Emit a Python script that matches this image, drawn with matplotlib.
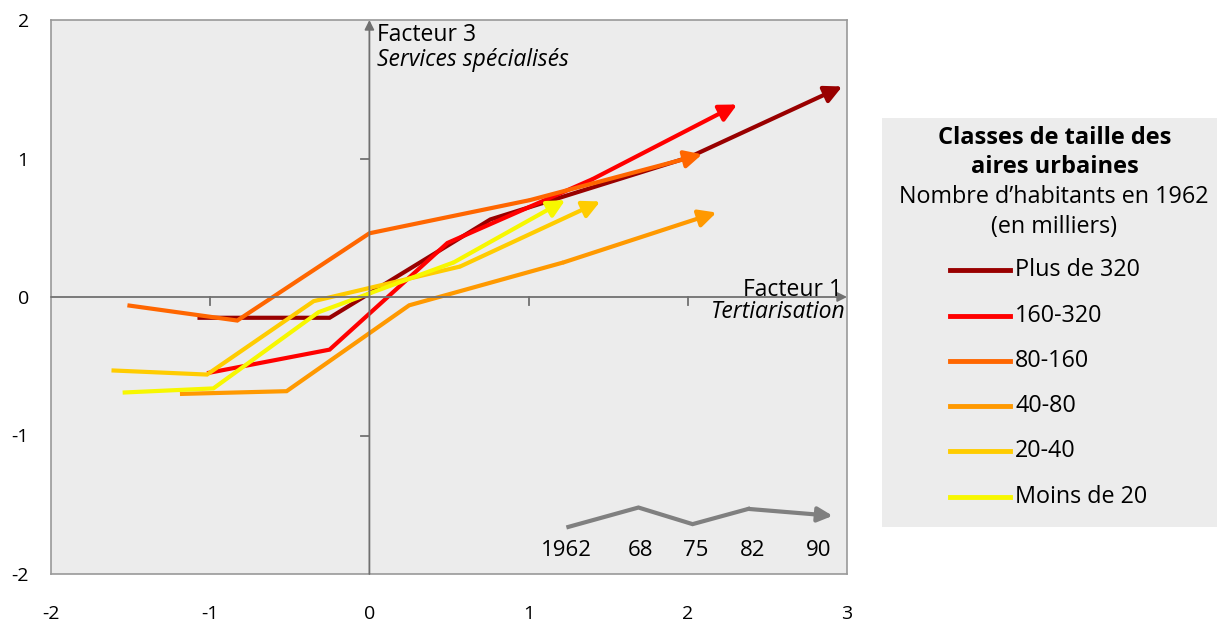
import numpy as np
import matplotlib
matplotlib.use("Agg")
import matplotlib.pyplot as plt
from matplotlib.patches import Rectangle
from matplotlib.lines import Line2D

plt.rcParams['font.family'] = ['Open Sans', 'DejaVu Sans']

# classes de taille (legend labels) and colours
classes = ['Plus de 320', '160-320', '80-160', '40-80', '20-40', 'Moins de 20']
colors = ['#990000', '#FF0000', '#FF6600', '#FF9900', '#FFCC00', '#F7F700']

# trajectories 1962, 68, 75, 82, 90 (Facteur 1, Facteur 3)
f1_plus320 = [-1.08, -0.25, 0.76, 2.01, 2.97]
f3_plus320 = [-0.15, -0.15, 0.56, 1.01, 1.52]
f1_160_320 = [-1.02, -0.25, 0.49, 1.40, 2.31]
f3_160_320 = [-0.55, -0.38, 0.39, 0.85, 1.39]
f1_80_160 = [-1.52, -0.83, 0.00, 1.01, 2.09]
f3_80_160 = [-0.06, -0.17, 0.46, 0.70, 1.03]
f1_40_80 = [-1.19, -0.52, 0.25, 1.22, 2.18]
f3_40_80 = [-0.70, -0.68, -0.06, 0.25, 0.61]
f1_20_40 = [-1.62, -1.02, -0.35, 0.57, 1.45]
f3_20_40 = [-0.53, -0.56, -0.03, 0.22, 0.69]
f1_moins20 = [-1.55, -0.98, -0.32, 0.53, 1.23]
f3_moins20 = [-0.69, -0.66, -0.11, 0.25, 0.70]

xs = [f1_plus320, f1_160_320, f1_80_160, f1_40_80, f1_20_40, f1_moins20]
ys = [f3_plus320, f3_160_320, f3_80_160, f3_40_80, f3_20_40, f3_moins20]

# small key for the years
years = ['1962', '68', '75', '82', '90']
key_x = [1.25, 1.69, 2.03, 2.38, 2.91]
key_y = [-1.66, -1.52, -1.64, -1.53, -1.58]
key_lab_x = [1.24, 1.70, 2.05, 2.41, 2.82]

fig = plt.figure(figsize=(12.17, 6.24), dpi=100)
ax = fig.add_axes([51/1217, 1-574/624, 796/1217, 554/624])
ax.set_xlim(-2, 3)
ax.set_ylim(-2, 2)
ax.set_facecolor('#ECECEC')
for s in ax.spines.values():
    s.set_color('#999999')
    s.set_linewidth(1.2)

ax.set_xticks([-2, -1, 0, 1, 2, 3])
ax.set_xticklabels(['-2', '-1', '0', '1', '2', '3'])
ax.set_yticks([-2, -1, 0, 1, 2])
ax.set_yticklabels(['-2', '-1', '0', '1', '2'])
ax.tick_params(axis='x', length=0, pad=22, labelsize=14)
ax.tick_params(axis='y', length=0, pad=16, labelsize=14)

# axes through origin with arrows
axcol = '#707070'
ax.annotate('', xy=(0, 2), xytext=(0, -2),
            arrowprops=dict(arrowstyle='-|>', color=axcol, lw=1.3,
                            mutation_scale=14, shrinkA=0, shrinkB=0))
ax.annotate('', xy=(3, 0), xytext=(-2, 0),
            arrowprops=dict(arrowstyle='-|>', color=axcol, lw=1.3,
                            mutation_scale=14, shrinkA=0, shrinkB=0))
for t in [-1, 1, 2]:
    ax.plot([t, t], [0, -0.06], color=axcol, lw=1.3)
for t in [-1, 1]:
    ax.plot([-0.05, 0], [t, t], color=axcol, lw=1.3)

ax.text(0.05, 1.89, 'Facteur 3', fontsize=16.5, va='center', ha='left')
ax.text(0.05, 1.71, 'Services spécialisés', fontsize=16.5, style='italic',
        va='center', ha='left')
ax.text(2.97, 0.05, 'Facteur 1', fontsize=16.5, va='center', ha='right')
ax.text(2.99, -0.11, 'Tertiarisation', fontsize=16.5, style='italic',
        va='center', ha='right')

# trajectories
for x, y, c in zip(xs, ys, colors):
    ax.plot(x[:-1], y[:-1], color=c, lw=3, solid_joinstyle='miter',
            solid_capstyle='butt')
    ax.annotate('', xy=(x[-1], y[-1]), xytext=(x[-2], y[-2]),
                arrowprops=dict(arrowstyle='-|>', color=c, lw=3,
                                mutation_scale=26, shrinkA=0, shrinkB=0))

# year key
ax.plot(key_x[:-1], key_y[:-1], color='#808080', lw=3, solid_joinstyle='miter')
ax.annotate('', xy=(key_x[-1], key_y[-1]), xytext=(key_x[-2], key_y[-2]),
            arrowprops=dict(arrowstyle='-|>', color='#808080', lw=3,
                            mutation_scale=22, shrinkA=0, shrinkB=0))
for xl, lab in zip(key_lab_x, years):
    ax.text(xl, -1.83, lab, fontsize=16, ha='center', va='center')

# legend box
fig.patches.append(Rectangle((882/1217, 1-527/624), 335/1217, 409/624,
                             transform=fig.transFigure, facecolor='#ECECEC',
                             edgecolor='none', zorder=0))
fig.text(1055/1217, 1-138/624, 'Classes de taille des', fontsize=17,
         weight='bold', ha='center', va='center')
fig.text(1055/1217, 1-167/624, 'aires urbaines', fontsize=17,
         weight='bold', ha='center', va='center')
fig.text(1054/1217, 1-197/624, 'Nombre d\u2019habitants en 1962', fontsize=16.8,
         ha='center', va='center')
fig.text(1054/1217, 1-227/624, '(en milliers)', fontsize=16.8,
         ha='center', va='center')
leg_y = [270, 316, 361, 406, 451, 497]
for py, lab, c in zip(leg_y, classes, colors):
    fig.add_artist(Line2D([950/1217, 1010/1217], [1-py/624, 1-py/624],
                          transform=fig.transFigure, color=c, lw=3.5))
    fig.text(1015/1217, 1-py/624, lab, fontsize=16.8, ha='left', va='center')

fig.savefig('out.png', dpi=100)
